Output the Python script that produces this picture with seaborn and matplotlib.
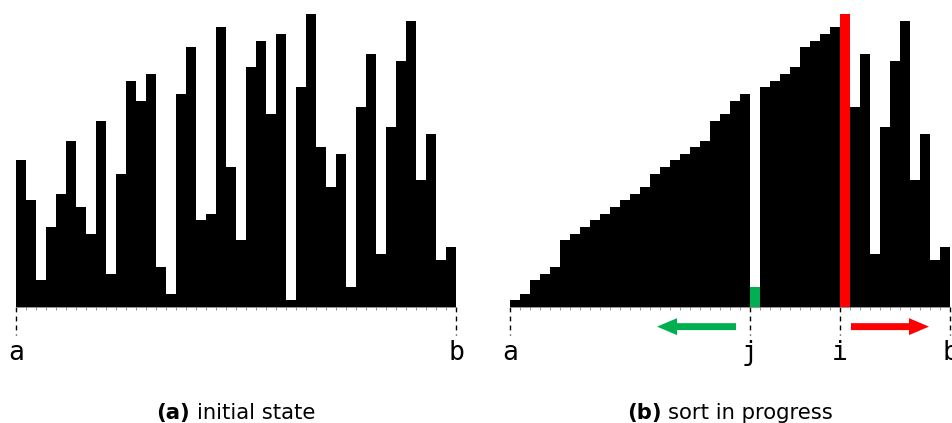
import numpy as np
import pandas as pd
import matplotlib
matplotlib.use("Agg")
import matplotlib.pyplot as plt
import seaborn as sns

# bar heights (a permutation of 1..44)
initial_vals = [22, 16, 4, 12, 17, 25, 15, 11, 28, 5, 20, 34, 31, 35, 6, 2, 32, 39, 13, 14, 42, 21,
                10, 36, 40, 29, 41, 1, 33, 44, 24, 18, 23, 3, 30, 38, 8, 27, 37, 43, 19, 26, 7, 9]
progress_vals = [1, 2, 4, 5, 6, 10, 11, 12, 13, 14, 15, 16, 17, 18, 20, 21, 22, 23, 24, 25, 28, 29,
                 31, 32, 3, 33, 34, 35, 36, 39, 40, 41, 42, 44, 30, 38, 8, 27, 37, 43, 19, 26, 7, 9]
j_pos = 24
i_pos = 33
captions = [("(a)", "initial state"), ("(b)", "sort in progress")]

GREEN = "#00B050"
RED = "#FF0000"
W, H = 952, 423

sns.set_style("white")
plt.rcParams["text.color"] = "black"

fig = plt.figure(figsize=(W / 100, H / 100), dpi=100)
ax_a = fig.add_axes([16 / W, 116 / H, 440 / W, 293 / H])
ax_b = fig.add_axes([510 / W, 116 / H, 440 / W, 293 / H])


def draw_bars(ax, vals, marks):
    df = pd.DataFrame({"pos": range(len(vals)), "val": vals})
    df["state"] = "plain"
    for k, name in marks.items():
        df.loc[k, "state"] = name
    sns.barplot(data=df, x="pos", y="val", hue="state",
                palette={"plain": "black", "j": GREEN, "i": RED},
                width=1.0, dodge=False, legend=False, saturation=1,
                linewidth=0, ax=ax)
    n = len(vals)
    ax.set_xlim(-0.5, n - 0.5)
    ax.set_ylim(0, max(vals))
    ax.set_xticks(np.arange(-0.5, n, 1))
    ax.set_yticks([])
    ax.tick_params(axis="x", bottom=True, length=2, width=0.6, color="#808080", labelbottom=False)
    ax.set_xlabel("")
    ax.set_ylabel("")
    sns.despine(ax=ax, left=True)
    ax.spines["bottom"].set_color("#808080")
    ax.spines["bottom"].set_linewidth(0.6)
    for p in ax.patches:
        p.set_clip_on(False)


def mark(ax, x, label):
    tr = ax.get_xaxis_transform()
    ax.plot([x, x], [0, -0.095], transform=tr, color="black", lw=1.0,
            dashes=(3.5, 3), clip_on=False)
    ax.text(x, -0.181, label, transform=tr, ha="center", va="baseline",
            family="DejaVu Sans Mono", fontsize=19, color="black")


draw_bars(ax_a, initial_vals, {})
draw_bars(ax_b, progress_vals, {j_pos: "j", i_pos: "i"})

n = len(initial_vals)
mark(ax_a, -0.5, "a")
mark(ax_a, n - 0.5, "b")
mark(ax_b, -0.5, "a")
mark(ax_b, j_pos - 0.5, "j")
mark(ax_b, i_pos - 0.5, "i")
mark(ax_b, n - 0.5, "b")

# direction arrows
arrow_style = "simple,head_length=1.44,head_width=1.22,tail_width=0.5"
ay = -0.067
ax_b.annotate("", xy=(j_pos - 9.8, ay), xytext=(j_pos - 1.9, ay),
              xycoords=ax_b.get_xaxis_transform(), annotation_clip=False,
              arrowprops=dict(arrowstyle=arrow_style, mutation_scale=10, color=GREEN,
                              lw=0, shrinkA=0, shrinkB=0))
ax_b.annotate("", xy=(i_pos + 8.4, ay), xytext=(i_pos + 0.6, ay),
              xycoords=ax_b.get_xaxis_transform(), annotation_clip=False,
              arrowprops=dict(arrowstyle=arrow_style, mutation_scale=10, color=RED,
                              lw=0, shrinkA=0, shrinkB=0))

# captions: bold tag + normal text, centred under each panel
fig.canvas.draw()
renderer = fig.canvas.get_renderer()
base_y = (H - 419) / H
for ax, (tag, text) in zip([ax_a, ax_b], captions):
    bb = ax.get_position()
    cx = (bb.x0 + bb.width / 2) * W
    t1 = fig.text(0, base_y, tag, weight="bold", fontsize=15.2, va="baseline", color="black")
    t2 = fig.text(0, base_y, text, fontsize=15.2, va="baseline", color="black")
    w1 = t1.get_window_extent(renderer).width
    w2 = t2.get_window_extent(renderer).width
    gap = 7
    x0 = cx - (w1 + gap + w2) / 2
    t1.set_x(x0 / W)
    t2.set_x((x0 + w1 + gap) / W)

fig.savefig("out.png", dpi=100)
